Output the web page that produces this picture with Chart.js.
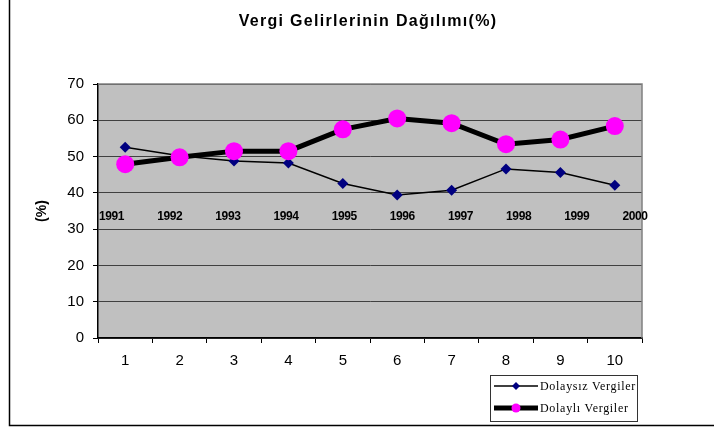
<!DOCTYPE html>
<html>
<head>
<meta charset="utf-8">
<script src="https://cdn.jsdelivr.net/npm/chart.js@4/dist/chart.umd.min.js"></script>
<style>
  html, body { margin: 0; padding: 0; background: #fff; }
  #wrap { width: 714px; height: 429px; position: relative; }
</style>
</head>
<body>
<div id="wrap"><canvas id="chart"></canvas></div>
<script>
const chartTitle = 'Vergi Gelirlerinin Dağılımı(%)';
const categories = ['1', '2', '3', '4', '5', '6', '7', '8', '9', '10'];
const years = ['1991', '1992', '1993', '1994', '1995', '1996', '1997', '1998', '1999', '2000'];
const dolaysiz = [52.6, 50.2, 48.8, 48.2, 42.6, 39.4, 40.7, 46.6, 45.6, 42.1];
const dolayli = [47.9, 49.8, 51.5, 51.5, 57.5, 60.5, 59.2, 53.4, 54.7, 58.4];
const seriesNames = ['Dolaysız Vergiler', 'Dolaylı Vergiler'];

// plot background, frame, title, year labels and legend box
const decorations = {
    id: 'decorations',
    beforeDraw(chart) {
        const { ctx, chartArea: a } = chart;
        ctx.save();
        ctx.fillStyle = '#c0c0c0';
        ctx.fillRect(a.left, a.top, a.right - a.left, a.bottom - a.top);
        ctx.restore();
    },
    beforeDatasetsDraw(chart) {
        const { ctx, chartArea: a } = chart;
        ctx.save();
        // gray top/right frame of plot area
        ctx.strokeStyle = '#808080';
        ctx.lineWidth = 1.5;
        ctx.beginPath();
        ctx.moveTo(a.left, a.top);
        ctx.lineTo(a.right, a.top);
        ctx.lineTo(a.right, a.bottom);
        ctx.stroke();
        ctx.restore();
    },
    afterDraw(chart) {
        const { ctx } = chart;
        const x = chart.scales.x, y = chart.scales.y;
        const canSpace = 'letterSpacing' in ctx;
        ctx.save();

        // outer frame (left and bottom)
        ctx.strokeStyle = '#000';
        ctx.lineWidth = 1.5;
        ctx.beginPath();
        ctx.moveTo(9.5, 0);
        ctx.lineTo(9.5, 425.5);
        ctx.lineTo(714, 425.5);
        ctx.stroke();

        // title
        ctx.fillStyle = '#000';
        ctx.font = 'bold 16px "Liberation Sans", Arial, sans-serif';
        ctx.textAlign = 'center';
        ctx.textBaseline = 'middle';
        if (canSpace) ctx.letterSpacing = '1.3px';
        ctx.fillText(chartTitle, 368, 22);
        if (canSpace) ctx.letterSpacing = '0px';

        // year labels inside plot
        ctx.font = 'bold 12px "Liberation Sans", Arial, sans-serif';
        if (canSpace) ctx.letterSpacing = '-0.4px';
        const x0 = x.getPixelForValue(-0.25), x1 = x.getPixelForValue(9.37);
        const yy = y.getPixelForValue(33.3);
        years.forEach((yr, i) => {
            const px = x0 + (x1 - x0) * i / (years.length - 1);
            ctx.fillText(yr, px, yy);
        });
        if (canSpace) ctx.letterSpacing = '0px';

        // legend box
        const lx = 490, ly = 375, lw = 147, lh = 46;
        ctx.strokeStyle = '#333';
        ctx.lineWidth = 1;
        ctx.strokeRect(lx + 0.5, ly + 0.5, lw, lh);
        ctx.font = '12px "Liberation Serif", "Times New Roman", serif';
        ctx.textAlign = 'left';
        if (canSpace) ctx.letterSpacing = '0.7px';
        chart.data.datasets.forEach((ds, i) => {
            const ry = ly + 11 + i * 22;
            ctx.strokeStyle = ds.borderColor;
            ctx.lineWidth = ds.borderWidth;
            ctx.beginPath();
            ctx.moveTo(lx + 4, ry);
            ctx.lineTo(lx + 48, ry);
            ctx.stroke();
            ctx.fillStyle = ds.pointBackgroundColor;
            ctx.beginPath();
            if (ds.pointStyle === 'rectRot') {
                const r = 4;
                ctx.moveTo(lx + 26, ry - r);
                ctx.lineTo(lx + 26 + r, ry);
                ctx.lineTo(lx + 26, ry + r);
                ctx.lineTo(lx + 26 - r, ry);
                ctx.closePath();
            } else {
                ctx.arc(lx + 26, ry, 4.5, 0, Math.PI * 2);
            }
            ctx.fill();
            ctx.fillStyle = '#000';
            ctx.fillText(ds.label, lx + 50, ry + 1);
        });
        ctx.restore();
    }
};

new Chart(document.getElementById('chart'), {
    type: 'line',
    data: {
        labels: categories,
        datasets: [
            {
                label: seriesNames[0],
                data: dolaysiz,
                order: 2,
                borderColor: '#000',
                borderWidth: 1.5,
                pointStyle: 'rectRot',
                pointRadius: 5.5,
                pointBackgroundColor: '#000080',
                pointBorderColor: '#000080',
                pointBorderWidth: 0,
                tension: 0
            },
            {
                label: seriesNames[1],
                data: dolayli,
                order: 1,
                borderColor: '#000',
                borderWidth: 5,
                pointStyle: 'circle',
                pointRadius: 9,
                pointBackgroundColor: '#ff00ff',
                pointBorderColor: '#ff00ff',
                pointBorderWidth: 0,
                tension: 0
            }
        ]
    },
    options: {
        responsive: true,
        maintainAspectRatio: false,
        animation: false,
        events: [],
        layout: { padding: { top: 84, left: 10, right: 72, bottom: 41 } },
        plugins: {
            legend: { display: false },
            title: { display: false },
            tooltip: { enabled: false }
        },
        scales: {
            x: {
                offset: true,
                afterFit: s => { s.height = 50; },
                grid: {
                    offset: true,
                    drawOnChartArea: false,
                    tickLength: 5,
                    color: '#000'
                },
                border: { color: '#000', width: 1.5 },
                ticks: {
                    color: '#000',
                    padding: 9,
                    font: { family: '"Liberation Sans", Arial, sans-serif', size: 15 }
                }
            },
            y: {
                min: 0,
                max: 70,
                afterFit: s => { s.width = 88; },
                grid: {
                    color: '#404040',
                    lineWidth: 1,
                    tickLength: 5,
                    tickColor: '#000'
                },
                border: { color: '#000', width: 1.5 },
                ticks: {
                    stepSize: 10,
                    color: '#000',
                    padding: 9,
                    font: { family: '"Liberation Sans", Arial, sans-serif', size: 15 }
                },
                title: {
                    display: true,
                    text: '(%)',
                    color: '#000',
                    padding: { top: 24, bottom: 0 },
                    font: { family: '"Liberation Sans", Arial, sans-serif', size: 14, weight: 'bold' }
                }
            }
        }
    },
    plugins: [decorations]
});
</script>
</body>
</html>
